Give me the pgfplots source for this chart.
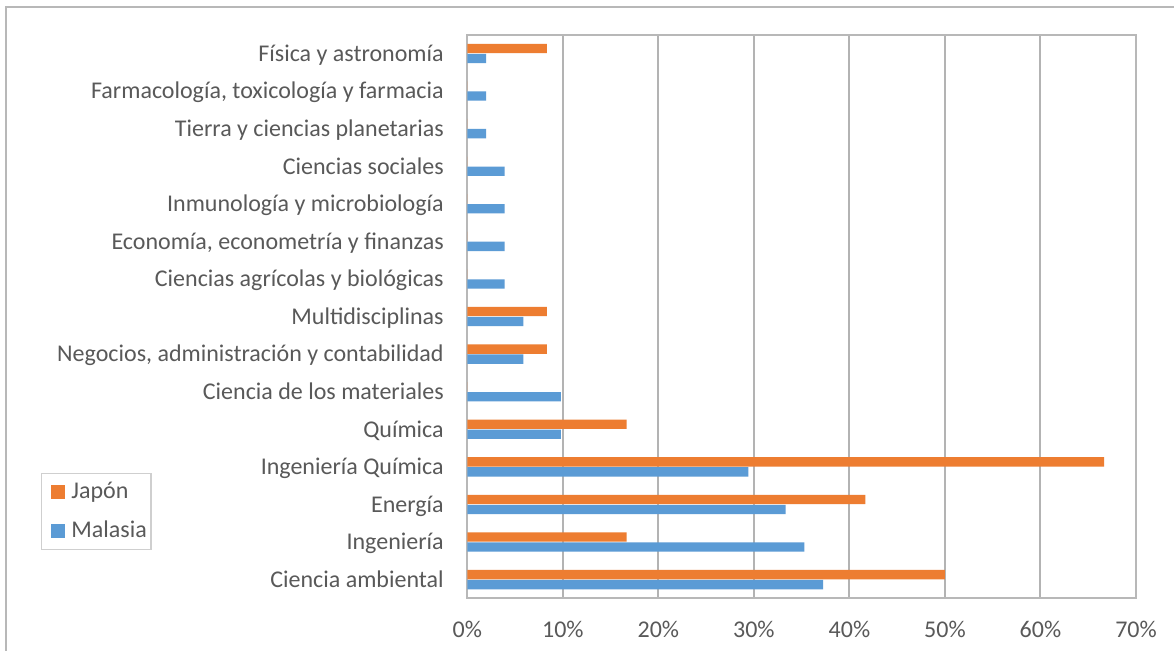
\documentclass[border=0pt]{standalone}
\usepackage{fontspec}
\setmainfont{Carlito}
\usepackage{pgfplots}
\usepackage{pgfplotstable}
\pgfplotsset{compat=1.18}
\definecolor{jap}{HTML}{ED7D31}
\definecolor{mal}{HTML}{5B9BD5}
\definecolor{gridc}{HTML}{B3B3B3}
\definecolor{txt}{HTML}{595959}
\definecolor{framec}{HTML}{B8B8B8}
\definecolor{legc}{HTML}{CFCFCF}

\pgfplotstableread{
y val
0 50.00
1 16.67
2 41.67
3 66.67
4 16.67
5 0
6 8.33
7 8.33
8 0
9 0
10 0
11 0
12 0
13 0
14 8.33
}\japon

\pgfplotstableread{
y val
0 37.25
1 35.29
2 33.33
3 29.41
4 9.80
5 9.80
6 5.88
7 5.88
8 3.92
9 3.92
10 3.92
11 3.92
12 1.96
13 1.96
14 1.96
}\malasia

\begin{document}
\fontsize{12bp}{14bp}\selectfont
\begin{tikzpicture}
\useasboundingbox (0,0) rectangle (587bp,325.5bp);
\fill[white] (0,0) rectangle (587bp,325.5bp);
\draw[framec, line width=1bp] (3bp,-1bp) -- (3bp,322bp) -- (588bp,322bp);
\begin{axis}[
  at={(233.65bp,26.3bp)}, anchor=south west,
  width=334.35bp, height=281.85bp, scale only axis,
  xbar, bar width=4.65bp,
  xmin=0, xmax=70, ymin=-0.5, ymax=14.5,
  xtick={0,10,...,70},
  xticklabel={\pgfmathprintnumber{\tick}\%},
  ytick={0,...,14},
  yticklabels={Ciencia ambiental, Ingeniería, Energía, Ingeniería Química, Química, Ciencia de los materiales, {Negocios, administración y contabilidad}, Multidisciplinas, Ciencias agrícolas y biológicas, {Economía, econometría y finanzas}, Inmunología y microbiología, Ciencias sociales, Tierra y ciencias planetarias, {Farmacología, toxicología y farmacia}, Física y astronomía},
  xmajorgrids, major grid style={gridc, line width=1bp},
  axis line style={framec, line width=1bp},
  major tick length=0pt,
  tick label style={font=\fontsize{12bp}{14bp}\selectfont, text=txt},
  xticklabel style={anchor=base, yshift=-19.5bp},
  yticklabel style={anchor=base east, inner sep=0pt, xshift=-11.6bp, yshift=-3.9bp},
  /pgf/number format/assume math mode=true,
  legend style={at={(-0.638,0.223)}, anchor=north west, draw=legc, line width=0.75bp,
    fill=white, inner xsep=1bp, inner ysep=3bp, row sep=6bp,
    font=\fontsize{12bp}{14bp}\selectfont, text=txt,
    nodes={inner xsep=1bp, inner ysep=1.5bp}},
  legend cell align=left,
  legend image code/.code={\path (0bp,0bp) (13bp,0bp); \fill[#1] (4bp,-3.5bp) rectangle (11bp,3.5bp);},
]
\addplot[draw=none, fill=jap, bar shift=2.5bp] table[x=val, y=y] {\japon};
\addplot[draw=none, fill=mal, bar shift=-2.5bp] table[x=val, y=y] {\malasia};
\legend{Japón, Malasia}
\end{axis}
\end{tikzpicture}
\end{document}
